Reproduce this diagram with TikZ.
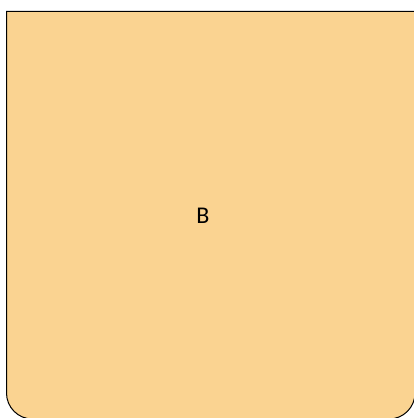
\documentclass[tikz,border=0pt]{standalone}
\usepackage{fontspec}
\setmainfont{Carlito}
\usetikzlibrary{positioning}
\definecolor{boxfill}{RGB}{250,211,145}

\begin{document}
\begin{tikzpicture}[
  x=1pt, y=1pt,
  panel/.style={draw=black, fill=boxfill, line width=1pt},
  label/.style={font=\fontsize{24}{28}\selectfont, text=black}
]
\useasboundingbox (0,0) rectangle (414,418);
% panel with rounded lower corners
\draw[panel] (6.5,406.5) -- (415,406.5)
  [rounded corners=26pt] -- (415,-1) -- (6.5,-1)
  [sharp corners] -- cycle;
\node[label] (b) at (203,202) {B};
\end{tikzpicture}
\end{document}
